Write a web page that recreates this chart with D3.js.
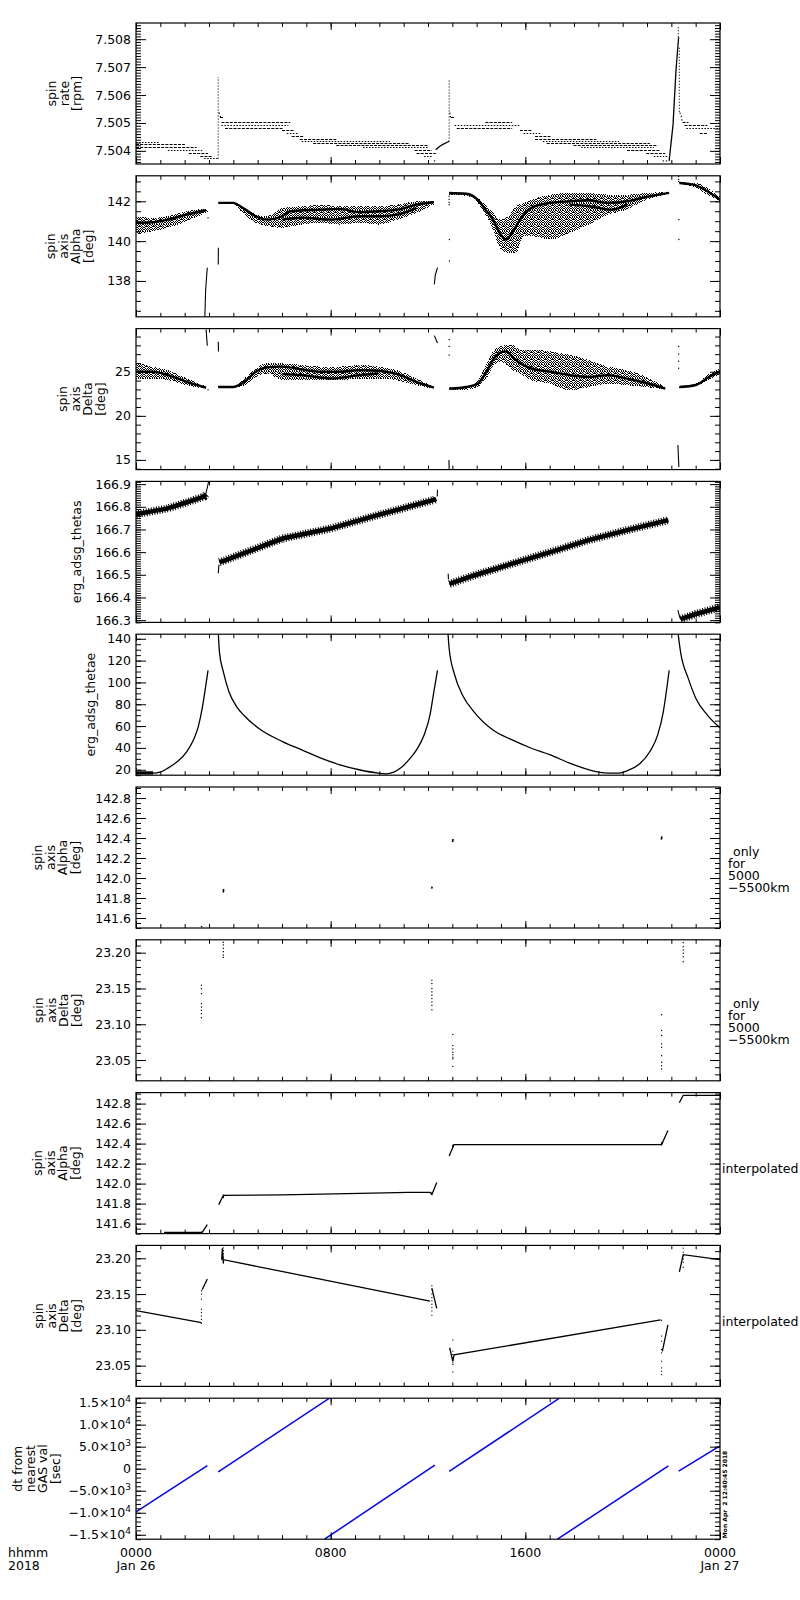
<!DOCTYPE html>
<html>
<head>
<meta charset="utf-8">
<script src="https://cdn.jsdelivr.net/npm/d3@7"></script>
<style>
  body { margin: 0; background: #fff; }
  svg { display: block; font-family: "DejaVu Sans", sans-serif; }
</style>
</head>
<body>
<div id="chart"></div>
<script>
// ---- x axis (hours from 0000 Jan 26) ----
const xLabelHours = [0, 8, 16, 24];
const xLabelTimes = ["0000", "0800", "1600", "0000"];
const xLabelDates = ["Jan 26", "", "", "Jan 27"];

// ---- panel 1: spin rate [rpm] ----
const rateTicks = [7.504, 7.505, 7.506, 7.507, 7.508];
// [tStart, tEnd, rpm] quantised levels
const rateLevels = [
  [0, 0.99, 7.50431], [0, 2.01, 7.50424], [0, 2.49, 7.50413], [1.31, 2.72, 7.50402],
  [2.17, 2.96, 7.50394], [2.64, 3.11, 7.50382], [2.80, 3.38, 7.50373],
  [3.45, 3.6, 7.50523], [3.51, 6.34, 7.50504], [3.51, 6.26, 7.50494], [3.66, 6.02, 7.50482],
  [6.0, 6.5, 7.50473], [6.2, 6.7, 7.50464], [6.4, 6.9, 7.50454], [6.73, 8.23, 7.50443],
  [6.81, 10.43, 7.50436], [7.28, 11.21, 7.50430], [8.23, 12.0, 7.50422], [9.33, 12.0, 7.50413],
  [11.45, 12.16, 7.50404], [11.53, 12.32, 7.50394], [11.84, 12.16, 7.50382],
  [12.94, 13.1, 7.50523], [14.36, 15.46, 7.50504], [13.1, 15.78, 7.50494], [13.18, 15.46, 7.50482],
  [15.78, 16.25, 7.50473], [15.93, 16.64, 7.50464], [16.4, 17.03, 7.50454], [16.4, 18.92, 7.50443],
  [16.72, 19.86, 7.50436], [16.88, 21.12, 7.50430], [17.98, 21.44, 7.50422], [18.29, 21.28, 7.50413],
  [20.18, 21.52, 7.50404], [20.97, 21.75, 7.50394], [21.28, 21.83, 7.50382],
  [22.46, 22.7, 7.50504], [22.54, 23.48, 7.50494], [22.62, 24, 7.50482], [23.17, 23.48, 7.50464]
];
const rateSpikes = [[3.38, 7.50373, 7.50665], [12.87, 7.50434, 7.50655], [22.29, 7.50807, 7.50849], [22.33, 7.50540, 7.50771]];
const rateDots = [[3.42, 7.50535], [3.47, 7.50523], [12.27, 7.50364], [12.9, 7.50535], [12.92, 7.50523],
  [21.67, 7.50364], [21.8, 7.50364], [22.36, 7.50535], [22.41, 7.50523], [22.43, 7.50511]];
const rateLines = [
  [[12.32, 7.50404], [12.47, 7.50416], [12.63, 7.50424], [12.79, 7.50431], [12.87, 7.50434]],
  [[21.91, 7.50364], [22.07, 7.50494], [22.19, 7.50687], [22.30, 7.50807]]
];

// ---- panel 2: spin axis Alpha [deg] ----
const alphaTicks = [138, 140, 142];
const alphaBands = [ // [t, low, high]
  [[0, 140.33, 141.25], [0.68, 140.5, 141.17], [1.31, 140.67, 141.25], [2.09, 141.0, 141.5], [2.88, 141.42, 141.62], [2.96, 141.45, 141.58]],
  [[3.38, 141.88, 141.97], [3.98, 141.85, 141.95], [4.45, 141.33, 141.67], [4.92, 140.92, 141.33], [5.39, 140.75, 141.25],
   [6.02, 140.67, 141.67], [6.81, 140.83, 141.75], [7.6, 140.92, 141.83], [8.38, 140.83, 141.75], [9.17, 140.92, 141.75],
   [9.96, 140.83, 141.75], [10.74, 141.08, 141.83], [11.53, 141.42, 142.0], [12.24, 141.83, 142.0]],
  [[12.87, 142.33, 142.45], [13.57, 142.28, 142.42], [14.04, 141.92, 142.17], [14.36, 141.33, 141.83], [14.67, 140.58, 141.42],
   [14.99, 139.58, 141.08], [15.3, 139.42, 141.25], [15.62, 139.42, 141.75], [15.93, 140.25, 141.92], [16.25, 140.25, 142.08],
   [17.03, 140.08, 142.33], [17.82, 140.42, 142.42], [18.61, 140.83, 142.42], [19.39, 141.33, 142.33], [20.18, 141.58, 142.33],
   [20.97, 142.08, 142.42], [21.75, 142.33, 142.45], [21.91, 142.38, 142.45]],
  [[22.33, 142.88, 142.95], [23.01, 142.67, 142.92], [23.48, 142.33, 142.67], [24, 142.0, 142.25]]
];
const alphaCores = [
  [[0, 140.92], [0.68, 140.95], [1.31, 141.08], [2.09, 141.33], [2.88, 141.55]],
  [[3.38, 141.92], [3.98, 141.92], [4.45, 141.62], [4.92, 141.25], [5.39, 141.08], [6.02, 141.25], [6.34, 141.5],
   [7.6, 141.58], [8.38, 141.62], [9.17, 141.45], [9.96, 141.5], [10.74, 141.58], [11.53, 141.83], [12.24, 141.95]],
  [[6.02, 141.08], [6.81, 141.17], [8.07, 141.08], [9.17, 141.25], [9.96, 141.25], [10.74, 141.33], [11.53, 141.67]],
  [[12.87, 142.42], [13.57, 142.38], [14.04, 142.08], [14.36, 141.58], [14.67, 141.08], [14.99, 140.33], [15.22, 140.08],
   [15.46, 140.42], [15.78, 141.08], [16.25, 141.67], [17.03, 141.92], [17.82, 142.0], [18.61, 142.05], [19.39, 141.92],
   [20.18, 142.0], [20.97, 142.22], [21.91, 142.42]],
  [[17.82, 141.83], [18.61, 141.75], [19.55, 141.58], [20.18, 141.83]],
  [[22.33, 142.92], [23.01, 142.8], [23.48, 142.5], [24, 142.08]]
];
const alphaLines = [
  [[2.83, 136.2], [2.86, 137.5], [2.90, 138.2], [2.93, 138.67]],
  [[3.38, 138.83], [3.385, 139.67]],
  [[12.26, 137.83], [12.3, 138.3], [12.39, 138.67]]
];
const alphaDots = [[2.96, 141.17], [12.87, 142.25], [12.87, 142.1], [12.87, 141.95], [12.87, 141.83], [12.88, 140.08],
  [12.88, 139.0], [22.3, 143.25], [22.3, 143.1], [22.3, 143.0], [22.31, 141.08], [22.31, 140.08]];

// ---- panel 3: spin axis Delta [deg] ----
const deltaTicks = [15, 20, 25];
const deltaBands = [
  [[0, 24.23, 26.04], [0.68, 24.23, 25.58], [1.31, 24.04, 25.19], [2.09, 23.46, 24.23], [2.88, 23.08, 23.35]],
  [[3.38, 23.2, 23.35], [3.98, 23.2, 23.35], [4.45, 23.46, 24.23], [4.92, 24.42, 25.38], [5.39, 24.81, 25.96],
   [6.02, 24.04, 25.96], [6.81, 24.04, 25.77], [7.6, 24.04, 25.58], [8.38, 24.04, 25.58], [9.17, 24.23, 25.77],
   [9.96, 24.23, 25.58], [10.74, 24.04, 25.19], [11.53, 23.46, 24.23], [12.24, 23.08, 23.27]],
  [[12.87, 23.0, 23.27], [13.57, 22.96, 23.27], [14.04, 23.27, 24.04], [14.36, 24.04, 25.58], [14.67, 25.58, 27.31],
   [14.99, 26.15, 27.88], [15.46, 25.19, 28.08], [15.78, 24.81, 27.5], [16.25, 24.04, 27.5], [17.03, 23.65, 27.31],
   [17.82, 22.88, 26.92], [18.61, 23.27, 26.35], [19.39, 23.65, 25.58], [20.18, 23.46, 25.19], [20.97, 23.27, 24.42],
   [21.75, 22.96, 23.27]],
  [[22.33, 23.2, 23.35], [23.01, 23.35, 23.65], [23.48, 24.04, 24.62], [24, 24.73, 25.38]]
];
const deltaCores = [
  [[0, 25.0], [0.68, 25.0], [1.31, 24.62], [2.09, 23.85], [2.88, 23.19]],
  [[3.38, 23.27], [3.98, 23.27], [4.45, 23.85], [4.92, 25.0], [5.39, 25.5], [6.02, 25.58], [6.81, 25.27], [7.6, 25.0],
   [8.38, 25.0], [9.17, 25.19], [9.96, 25.12], [10.74, 24.73], [11.53, 23.85], [12.24, 23.19]],
  [[6.02, 24.73], [6.81, 24.62], [8.07, 24.23], [9.17, 24.62], [9.96, 24.81]],
  [[12.87, 23.08], [13.57, 23.27], [14.04, 23.65], [14.36, 24.81], [14.67, 26.35], [14.99, 27.19], [15.22, 27.31],
   [15.46, 26.73], [15.78, 25.96], [16.25, 25.38], [17.03, 25.0], [17.82, 24.62], [18.61, 24.42], [19.39, 24.62],
   [20.18, 24.23], [20.97, 23.73], [21.75, 23.08]],
  [[22.33, 23.27], [23.01, 23.5], [23.48, 24.3], [24, 25.05]]
];
const deltaLines = [
  [[2.88, 29.8], [2.93, 27.96]],
  [[3.38, 28.4], [3.39, 27.3]],
  [[12.26, 29.1], [12.39, 28.27]],
  [[12.86, 15.0], [12.87, 13.9]],
  [[22.27, 16.7], [22.31, 14.2]]
];
const deltaDots = [[2.96, 22.96], [12.87, 28.65], [12.87, 27.88], [12.87, 26.9], [22.3, 27.88], [22.3, 27.0],
  [22.3, 26.2], [22.3, 25.4]];

// ---- panel 4: erg_adsg_thetas ----
const thetasTicks = [166.3, 166.4, 166.5, 166.6, 166.7, 166.8, 166.9];
const thetasSegs = [
  [[0, 166.767], [1.31, 166.793], [2.09, 166.82], [2.8, 166.845], [2.88, 166.855]],
  [[3.43, 166.556], [3.66, 166.564], [6.02, 166.66], [7.99, 166.704], [9.96, 166.764], [12.24, 166.83], [12.34, 166.835]],
  [[12.88, 166.46], [13.89, 166.497], [15.46, 166.549], [17.03, 166.60], [18.6, 166.653], [20.18, 166.697], [21.88, 166.741]],
  [[22.38, 166.304], [23.01, 166.327], [24, 166.356]]
];
const thetasTails = [
  [[2.85, 166.85], [2.93, 166.885], [2.99, 166.915]],
  [[3.38, 166.507], [3.41, 166.545]],
  [[12.38, 166.845], [12.39, 166.875]],
  [[12.83, 166.505], [12.84, 166.48]],
  [[22.27, 166.344], [22.33, 166.319], [22.38, 166.304]]
];

// ---- panel 5: erg_adsg_thetae ----
const thetaeTicks = [20, 40, 60, 80, 100, 120, 140];
const thetaeCurves = [
  [[0, 16.9], [0.68, 16.9], [0.99, 17.8], [1.31, 21.5], [1.7, 27.5], [2.09, 36.7], [2.33, 45.8], [2.56, 59.5],
   [2.72, 76.2], [2.85, 94.4], [2.96, 111]],
  [[3.38, 146], [3.43, 127.8], [3.59, 109.6], [3.82, 91.4], [4.14, 77.7], [4.45, 69.5], [5.08, 57.3], [6.02, 45.8],
   [6.81, 38.2], [7.6, 30.6], [8.38, 24.5], [9.17, 20], [9.96, 16.9], [10.27, 16.3], [10.59, 17.8], [10.9, 22],
   [11.21, 29], [11.53, 38.2], [11.84, 51.9], [12.08, 70.1], [12.24, 91.4], [12.39, 111]],
  [[12.82, 146], [12.87, 130.9], [13.1, 106.6], [13.42, 88.3], [13.89, 73.1], [14.67, 56.4], [15.46, 47.3],
   [16.25, 39.7], [17.03, 33.6], [17.82, 26], [18.6, 20], [19.39, 16.9], [19.86, 16.9], [20.18, 19], [20.65, 24.5],
   [21.12, 36.7], [21.44, 51.9], [21.67, 73.1], [21.83, 97.4], [21.91, 111]],
  [[22.27, 146], [22.38, 127.8], [22.7, 103.5], [23.01, 85.3], [23.48, 70.1], [24, 58.5]]
];
const thetaeChunk = [[0, 0.7, 15.6, 18.6]]; // noisy start [t0, t1, low, high]

// ---- panel 6 / 8: spin axis Alpha (only 5000-5500 km / interpolated) ----
const alphaFineTicks = [141.6, 141.8, 142.0, 142.2, 142.4, 142.6, 142.8];
const alphaOnly = [
  [[2.69, 141.51], [2.7, 141.52]],
  [[3.59, 141.855], [3.6, 141.89]],
  [[12.15, 141.894], [12.17, 141.914]],
  [[13.01, 142.36], [13.03, 142.39]],
  [[21.59, 142.383], [21.61, 142.416]]
];
const alphaInterp = [
  [[1.15, 141.513], [2.72, 141.513], [2.93, 141.59]],
  [[3.4, 141.79], [3.59, 141.883], [6.0, 141.887], [8.7, 141.9], [11.2, 141.913], [12.08, 141.913], [12.16, 141.89], [12.36, 142.01]],
  [[12.87, 142.277], [13.07, 142.39], [21.6, 142.39], [21.86, 142.53]],
  [[22.33, 142.81], [22.49, 142.883], [24, 142.883]]
];

// ---- panel 7 / 9: spin axis Delta (only 5000-5500 km / interpolated) ----
const deltaFineTicks = [23.05, 23.10, 23.15, 23.20];
const deltaOnlyTimes = [2.69, 3.59, 12.16, 13.02, 21.6, 22.49];
const deltaOnlyValues = [
  [23.1545, 23.1499, 23.1428, 23.1288, 23.1241, 23.1194, 23.1147, 23.1091],
  [23.2145, 23.2108, 23.2061, 23.2014, 23.1967, 23.1934],
  [23.1616, 23.1569, 23.1499, 23.1452, 23.1405, 23.1358, 23.1311, 23.1264, 23.1203],
  [23.0857, 23.0702, 23.0655, 23.0608, 23.0575, 23.0538, 23.0515, 23.0411],
  [23.1133, 23.0913, 23.0843, 23.0725, 23.0679, 23.0561, 23.0468, 23.0421, 23.0374],
  [23.2141, 23.2084, 23.2037, 23.1991, 23.1944, 23.1873]
];
const deltaInterp = [
  [[0, 23.127], [2.69, 23.110]],
  [[2.72, 23.156], [2.93, 23.171]],
  [[3.52, 23.198], [3.55, 23.214], [3.59, 23.193], [3.6, 23.198], [12.08, 23.140]],
  [[12.16, 23.158], [12.36, 23.130]],
  [[12.89, 23.075], [13.02, 23.056], [13.07, 23.065], [21.56, 23.114]],
  [[21.63, 23.070], [21.86, 23.107]],
  [[22.33, 23.181], [22.49, 23.205], [24, 23.198]]
];

// ---- panel 10: dt from nearest GAS val [sec] ----
const dtTicks = [-15000, -10000, -5000, 0, 5000, 10000, 15000];
const dtSegs = [
  [[0, -9800], [2.93, 700]],
  [[3.38, -700], [7.95, 16000]],
  [[7.75, -16000], [12.28, 800]],
  [[12.87, -600], [17.4, 16000]],
  [[17.32, -16000], [21.88, 650]],
  [[22.3, -550], [24, 5200]]
];

// ---------------- layout ----------------
const W = 800, H = 1600;
const L = 136, R = 720, T0 = 23, STEP = 152.8, PH = 141;
const FS = 12.5;

const svg = d3.select("#chart").append("svg").attr("width", W).attr("height", H);
svg.append("rect").attr("width", W).attr("height", H).attr("fill", "#fff");
const defs = svg.append("defs");

// speckle texture for the scattered bands (fixed 7x7 pixel layout)
const pat = defs.append("pattern").attr("id", "speck").attr("width", 7).attr("height", 7)
  .attr("patternUnits", "userSpaceOnUse");
[[0, 0], [2, 0], [3, 0], [5, 0], [1, 1], [4, 1], [6, 1], [0, 2], [2, 2], [5, 2], [6, 2],
 [1, 3], [3, 3], [4, 3], [0, 4], [2, 4], [5, 4], [1, 5], [3, 5], [4, 5], [6, 5], [0, 6], [2, 6], [5, 6]]
  .forEach(([a, b]) =>
    pat.append("rect").attr("x", a).attr("y", b).attr("width", 1).attr("height", 1).attr("fill", "#000"));

const x = d3.scaleLinear().domain([0, 24]).range([L, R]);

const paths = (g, y, data, width, color = "#000", dash = null, curve = d3.curveLinear) => {
  const ln = d3.line().x(d => x(d[0])).y(d => y(d[1])).curve(curve);
  g.append("g").selectAll("path").data(data).join("path")
    .attr("d", ln).attr("fill", "none").attr("stroke", color)
    .attr("stroke-width", width).attr("stroke-dasharray", dash);
};
const bands = (g, y, data) => {
  const ar = d3.area().x(d => x(d[0])).y0(d => y(d[1])).y1(d => y(d[2])).curve(d3.curveMonotoneX);
  g.append("g").selectAll("path").data(data).join("path").attr("d", ar)
    .attr("fill", "url(#speck)").attr("shape-rendering", "crispEdges");
};
const dots = (g, y, data, s = 1.4) => {
  g.append("g").selectAll("rect").data(data).join("rect")
    .attr("x", d => x(d[0]) - s / 2).attr("y", d => y(d[1]) - s / 2)
    .attr("width", s).attr("height", s).attr("fill", "#000");
};
const onlyDots = () => deltaOnlyTimes.flatMap((t, i) => deltaOnlyValues[i].map(v => [t, v]));

const sup = (v) => {
  if (v === 0) return ["0", ""];
  const e = Math.floor(Math.log10(Math.abs(v)));
  const m = v / Math.pow(10, e);
  return [(m < 0 ? "\u2212" : "") + Math.abs(m).toFixed(1) + "\u00d710", String(e)];
};

const panels = [
  { domain: [7.50353, 7.50858], ticks: rateTicks, minor: 0.0001, fmt: d3.format(".3f"),
    title: ["spin", "rate", "[rpm]"], tx: 56,
    draw(g, y) {
      g.append("g").selectAll("line").data(rateLevels).join("line")
        .attr("x1", d => x(d[0])).attr("x2", d => x(d[1]))
        .attr("y1", d => Math.round(y(d[2])) + 0.5).attr("y2", d => Math.round(y(d[2])) + 0.5)
        .attr("stroke", "#000").attr("stroke-width", 1).attr("stroke-dasharray", (d, k) => k % 3 === 0 ? "1.5,1.5" : "3,1.2");
      g.append("g").selectAll("line").data(rateSpikes).join("line")
        .attr("x1", d => x(d[0])).attr("x2", d => x(d[0]))
        .attr("y1", d => y(d[1])).attr("y2", d => y(d[2]))
        .attr("stroke", "#000").attr("stroke-width", 1.1).attr("stroke-dasharray", "1,2");
      dots(g, y, rateDots, 1.2);
      paths(g, y, rateLines, 1.3);
    } },
  { domain: [136.2, 143.28], ticks: alphaTicks, minor: 0.5, fmt: d3.format("d"),
    title: ["spin", "axis", "Alpha", "[deg]"], tx: 55,
    draw(g, y) {
      bands(g, y, alphaBands);
      paths(g, y, alphaCores, 2.4, "#000", null, d3.curveMonotoneX);
      paths(g, y, alphaLines, 1.1);
      dots(g, y, alphaDots, 1.2);
    } },
  { domain: [13.9, 29.9], ticks: deltaTicks, minor: 1, fmt: d3.format("d"),
    title: ["spin", "axis", "Delta", "[deg]"], tx: 67,
    draw(g, y) {
      bands(g, y, deltaBands);
      paths(g, y, deltaCores, 2.4, "#000", null, d3.curveMonotoneX);
      paths(g, y, deltaLines, 1.1);
      dots(g, y, deltaDots, 1.2);
    } },
  { domain: [166.29, 166.912], ticks: thetasTicks, minor: 0.01, fmt: d3.format(".1f"),
    title: ["erg_adsg_thetas"], tx: 81,
    draw(g, y) {
      paths(g, y, thetasSegs, 8, "#000", "1,1.6");
      paths(g, y, thetasSegs, 4.5);
      paths(g, y, thetasTails, 1.1);
    } },
  { domain: [15, 144.2], ticks: thetaeTicks, minor: 5, fmt: d3.format("d"),
    title: ["erg_adsg_thetae"], tx: 95,
    draw(g, y) {
      g.append("g").selectAll("rect").data(thetaeChunk).join("rect")
        .attr("x", d => x(d[0])).attr("width", d => x(d[1]) - x(d[0]))
        .attr("y", d => y(d[3])).attr("height", d => y(d[2]) - y(d[3])).attr("fill", "#000");
      paths(g, y, thetaeCurves, 1.3, "#000", null, d3.curveMonotoneX);
    } },
  { domain: [141.5, 142.91], ticks: alphaFineTicks, minor: 0.05, fmt: d3.format(".1f"),
    title: ["spin", "axis", "Alpha", "[deg]"], tx: 42,
    note: ["only", "for", "5000", "\u22125500km"],
    draw(g, y) { paths(g, y, alphaOnly, 1.6); } },
  { domain: [23.021, 23.218], ticks: deltaFineTicks, minor: 0.01, fmt: d3.format(".2f"),
    title: ["spin", "axis", "Delta", "[deg]"], tx: 43,
    note: ["only", "for", "5000", "\u22125500km"],
    draw(g, y) { dots(g, y, onlyDots(), 1.2); } },
  { domain: [141.5, 142.91], ticks: alphaFineTicks, minor: 0.05, fmt: d3.format(".1f"),
    title: ["spin", "axis", "Alpha", "[deg]"], tx: 42, interp: true,
    draw(g, y) { paths(g, y, alphaInterp, 1.3); paths(g, y, alphaOnly, 1.3); } },
  { domain: [23.021, 23.218], ticks: deltaFineTicks, minor: 0.01, fmt: d3.format(".2f"),
    title: ["spin", "axis", "Delta", "[deg]"], tx: 43, interp: true,
    draw(g, y) { paths(g, y, deltaInterp, 1.3); dots(g, y, onlyDots(), 1.1); } },
  { domain: [-16000, 16000], ticks: dtTicks, minor: 1000, fmt: null,
    title: ["dt from", "nearest", "GAS val", "[sec]"], tx: 22,
    draw(g, y) { paths(g, y, dtSegs, 1.5, "#0000ff"); } }
];

const minorTicks = (dom, step) => {
  const a = Math.ceil(dom[0] / step - 1e-9), b = Math.floor(dom[1] / step + 1e-9);
  return d3.range(a, b + 1).map(k => +(k * step).toFixed(8));
};
const hourTicks = d3.range(0, 25);

const cleanAxis = (g) => {
  g.attr("font-size", null).attr("font-family", null);
  g.select(".domain").remove();
  g.selectAll(".tick line").attr("stroke", "#000").attr("stroke-width", 1);
};

panels.forEach((p, i) => {
  const top = T0 + i * STEP, bot = top + PH, cy = top + PH / 2;
  const y = d3.scaleLinear().domain(p.domain).range([bot, top]);
  const g = svg.append("g");

  defs.append("clipPath").attr("id", "clip" + i).append("rect")
    .attr("x", L).attr("y", top).attr("width", R - L).attr("height", PH);
  const plot = g.append("g").attr("clip-path", `url(#clip${i})`);
  p.draw(plot, y);

  // frame
  g.append("rect").attr("x", L).attr("y", top).attr("width", R - L).attr("height", PH)
    .attr("fill", "none").attr("stroke", "#000").attr("stroke-width", 1.2);

  // y ticks: minor then major, on both sides
  const minors = minorTicks(p.domain, p.minor);
  g.append("g").attr("transform", `translate(${L},0)`)
    .call(d3.axisLeft(y).tickValues(minors).tickSize(-5).tickFormat("")).call(cleanAxis);
  g.append("g").attr("transform", `translate(${R},0)`)
    .call(d3.axisRight(y).tickValues(minors).tickSize(-5).tickFormat("")).call(cleanAxis);
  g.append("g").attr("transform", `translate(${R},0)`)
    .call(d3.axisRight(y).tickValues(p.ticks).tickSize(-10).tickFormat("")).call(cleanAxis);

  const left = g.append("g").attr("transform", `translate(${L},0)`)
    .call(d3.axisLeft(y).tickValues(p.ticks).tickSize(-10).tickPadding(5)
      .tickFormat(p.fmt ? p.fmt : () => ""))
    .call(cleanAxis);
  left.selectAll(".tick text").attr("fill", "#000").attr("font-size", FS);
  if (!p.fmt) {
    left.selectAll(".tick text").each(function (d) {
      const [m, e] = sup(d);
      const t = d3.select(this).text(null);
      t.append("tspan").text(m);
      if (e) t.append("tspan").attr("dy", -5).attr("font-size", 9).text(e);
    });
  }

  // x ticks top and bottom
  g.append("g").attr("transform", `translate(0,${bot})`)
    .call(d3.axisBottom(x).tickValues(hourTicks).tickSize(-4).tickFormat("")).call(cleanAxis);
  g.append("g").attr("transform", `translate(0,${top})`)
    .call(d3.axisTop(x).tickValues(hourTicks).tickSize(-4).tickFormat("")).call(cleanAxis);
  g.append("g").attr("transform", `translate(0,${bot})`)
    .call(d3.axisBottom(x).tickValues(xLabelHours).tickSize(-7).tickFormat("")).call(cleanAxis);
  g.append("g").attr("transform", `translate(0,${top})`)
    .call(d3.axisTop(x).tickValues(xLabelHours).tickSize(-7).tickFormat("")).call(cleanAxis);

  // rotated y title
  const tt = g.append("text").attr("transform", `translate(${p.tx},${cy}) rotate(-90)`)
    .attr("text-anchor", "middle").attr("font-size", FS).attr("fill", "#000");
  p.title.forEach((s, k) => tt.append("tspan").attr("x", 0).attr("y", k * 12.5).text(s));

  // right-hand notes
  if (p.note) {
    const nt = g.append("text").attr("font-size", FS).attr("fill", "#000");
    p.note.forEach((s, k) => nt.append("tspan").attr("x", k === 0 ? 733 : 728).attr("y", cy - 2 + k * 12).text(s));
  }
  if (p.interp) {
    g.append("text").attr("x", 722).attr("y", cy + 10).attr("font-size", FS).attr("fill", "#000").text("interpolated");
  }
});

// bottom time labels
const lastBot = T0 + 9 * STEP + PH;
const xl = svg.append("g").attr("font-size", FS).attr("fill", "#000").attr("text-anchor", "middle");
xLabelHours.forEach((h, i) => {
  xl.append("text").attr("x", x(h)).attr("y", lastBot + 18).text(xLabelTimes[i]);
  if (xLabelDates[i]) xl.append("text").attr("x", x(h)).attr("y", lastBot + 30.5).text(xLabelDates[i]);
});
svg.append("text").attr("x", 8).attr("y", lastBot + 18).attr("font-size", FS).text("hhmm");
svg.append("text").attr("x", 8).attr("y", lastBot + 30.5).attr("font-size", FS).text("2018");

// run stamp
svg.append("text").attr("transform", `translate(727,${lastBot - 1}) rotate(-90)`)
  .attr("font-size", 6).attr("font-weight", "bold").attr("xml:space", "preserve")
  .style("white-space", "pre").text("Mon Apr  2 12:40:45 2018");
</script>
</body>
</html>
